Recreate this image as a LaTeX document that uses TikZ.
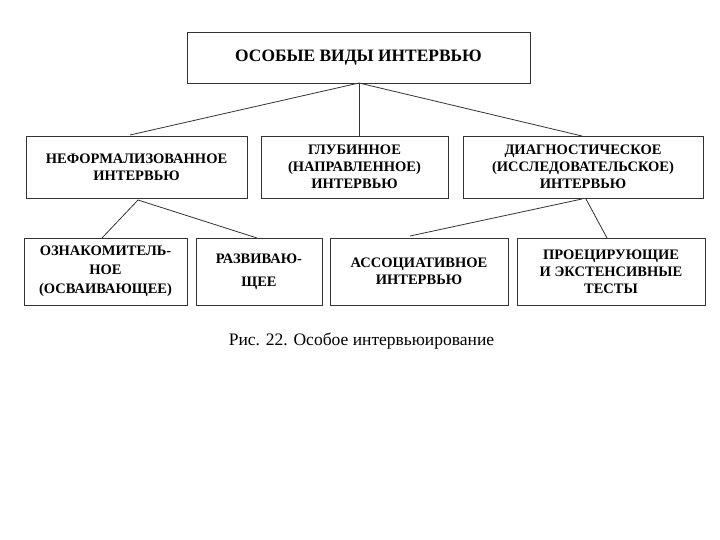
\documentclass[tikz,border=0pt]{standalone}
\usepackage{fontspec}
\setmainfont{Liberation Serif}
\begin{document}
\begin{tikzpicture}[x=1pt,y=-1pt,
  box/.style={draw=black!80, line width=0.9pt, rectangle, inner sep=0pt, align=center,
    font=\fontsize{14.5}{17}\selectfont\bfseries},
  conn/.style={draw=black!80, line width=0.8pt}]
\useasboundingbox (0,0) rectangle (720,540);
\node[box, minimum width=343pt, minimum height=51pt, font=\fontsize{17.4}{20}\selectfont\bfseries] (top) at (358.5,57.5) {ОСОБЫЕ ВИДЫ ИНТЕРВЬЮ};
\node[box, minimum width=221pt, minimum height=62pt] (inf) at (136.5,167) {НЕФОРМАЛИЗОВАННОЕ\\ИНТЕРВЬЮ};
\node[box, minimum width=187pt, minimum height=62pt] (deep) at (354.5,167) {ГЛУБИННОЕ\\(НАПРАВЛЕННОЕ)\\ИНТЕРВЬЮ};
\node[box, minimum width=240pt, minimum height=62pt] (diag) at (583,167) {ДИАГНОСТИЧЕСКОЕ\\(ИССЛЕДОВАТЕЛЬСКОЕ)\\ИНТЕРВЬЮ};
\node[box, minimum width=163pt, minimum height=67pt, font=\fontsize{14.5}{19}\selectfont\bfseries] (fam) at (105.5,271.5) {ОЗНАКОМИТЕЛЬ-\\НОЕ\\(ОСВАИВАЮЩЕЕ)};
\node[box, minimum width=126pt, minimum height=67pt, font=\fontsize{14.5}{23}\selectfont\bfseries] (dev) at (259,271.5) {РАЗВИВАЮ-\\ЩЕЕ};
\node[box, minimum width=178pt, minimum height=67pt] (assoc) at (419,271.5) {АССОЦИАТИВНОЕ\\ИНТЕРВЬЮ};
\node[box, minimum width=188pt, minimum height=67pt] (proj) at (611,271.5) {ПРОЕЦИРУЮЩИЕ\\И ЭКСТЕНСИВНЫЕ\\ТЕСТЫ};
\coordinate (tb) at (359,83);
\coordinate (ib) at (138,200);
\draw[conn] (tb) -- (130,135);
\draw[conn] (tb) -- (359,136);
\draw[conn] (tb) -- (582,136);
\draw[conn] (ib) -- (102,238);
\draw[conn] (ib) -- (257,238);
\draw[conn] (582,199) -- (410,236);
\draw[conn] (586,199) -- (607,238);
\node[font=\fontsize{17.5}{20}\selectfont] (cap) at (361.5,341) {Рис. 22. Особое интервьюирование};
\end{tikzpicture}
\end{document}
